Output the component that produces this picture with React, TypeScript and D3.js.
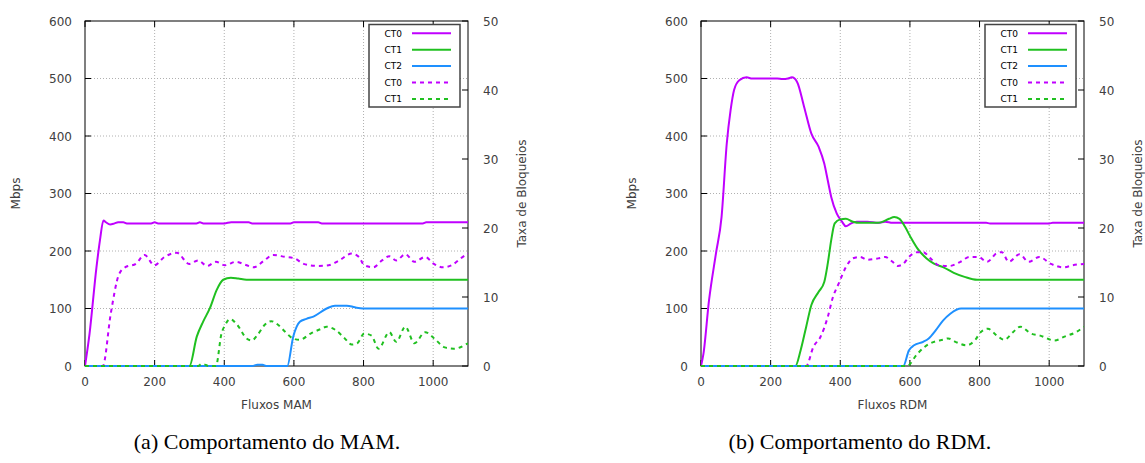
import React from "react";
import * as d3 from "d3";

// x ticks / y ticks
const X_TICKS = [0, 200, 400, 600, 800, 1000];
const Y_TICKS = [0, 100, 200, 300, 400, 500, 600];
const Y2_TICKS = [0, 10, 20, 30, 40, 50];

type Pt = [number, number];

// MAM, Mbps
const mamCt0: Pt[] = [
  [0, 0], [13, 56], [33, 172], [43, 219], [53, 253], [60, 250], [72, 246], [85, 248], [95, 250],
  [110, 250], [120, 248], [190, 248], [200, 250], [210, 248], [320, 248], [330, 250], [340, 248],
  [400, 248], [420, 250], [470, 250], [480, 248], [590, 248], [600, 250], [670, 250], [680, 248],
  [970, 248], [980, 250], [1100, 250],
];
const mamCt1: Pt[] = [
  [0, 0], [300, 0], [321, 51], [340, 78], [359, 101], [378, 132], [397, 150], [419, 153.5],
  [440, 152], [464, 150], [1100, 150],
];
const mamCt2: Pt[] = [
  [0, 0], [480, 0], [495, 2], [510, 2], [520, 0], [581, 0], [598, 51], [617, 77], [636, 82],
  [656, 86], [694, 100], [718, 105], [752, 105], [775, 102], [798, 100], [1100, 100],
];
// MAM, taxa de bloqueios
const mamBlockCt0: Pt[] = [
  [0, 0], [51, 0], [74, 7.6], [97, 13.2], [115, 14.3], [146, 14.8], [171, 16.1], [199, 14.6],
  [228, 15.8], [264, 16.4], [299, 14.8], [325, 15.3], [351, 14.5], [376, 15.1], [402, 14.6],
  [433, 15.1], [464, 14.6], [484, 14.3], [515, 15.3], [540, 16.1], [576, 15.8], [602, 15.6],
  [628, 14.8], [669, 14.5], [700, 14.6], [730, 15.3], [766, 16.3], [787, 15.8], [802, 14.6],
  [828, 14.3], [853, 15.3], [874, 15.9], [894, 15.3], [920, 16.2], [946, 15.1], [977, 15.8],
  [1002, 14.8], [1028, 14.3], [1053, 14.6], [1079, 15.6], [1100, 16.3],
];
const mamBlockCt1: Pt[] = [
  [0, 0], [325, 0], [335, 0.3], [345, 0.2], [355, 0], [376, 0], [392, 4.7], [402, 5.9],
  [417, 6.8], [438, 5.9], [464, 4.0], [479, 3.7], [494, 4.4], [515, 5.9], [535, 6.5],
  [556, 5.9], [576, 4.9], [597, 4.0], [617, 3.8], [648, 4.7], [679, 5.4], [694, 5.7],
  [720, 5.2], [746, 4.0], [766, 3.1], [782, 3.3], [802, 4.7], [823, 4.4], [843, 2.5],
  [874, 4.9], [894, 3.5], [920, 5.7], [946, 3.3], [977, 4.9], [1007, 3.8], [1033, 2.7],
  [1059, 2.5], [1100, 3.3],
];

// RDM, Mbps
const rdmCt0: Pt[] = [
  [0, 0], [7, 21], [23, 114], [43, 196], [59, 259], [74, 387], [85, 445], [95, 480], [110, 497],
  [131, 502], [147, 500], [219, 500], [234, 499], [250, 500], [261, 502], [276, 494],
  [296, 451], [317, 404], [338, 381], [354, 352], [364, 323], [374, 294], [390, 265],
  [405, 251], [416, 243], [431, 248], [447, 251], [478, 251], [509, 249], [529, 251],
  [550, 249], [819, 249], [830, 248], [1000, 248], [1010, 249], [1100, 249],
];
const rdmCt1: Pt[] = [
  [0, 0], [271, 0], [286, 27], [302, 68], [317, 106], [338, 129], [354, 146], [364, 178],
  [374, 219], [384, 248], [400, 255], [416, 256], [436, 251], [457, 249], [509, 249],
  [540, 256], [555, 259], [570, 256], [586, 242], [602, 224], [622, 204], [648, 187],
  [669, 178], [695, 172], [726, 162], [757, 155], [793, 150], [1100, 150],
];
const rdmCt2: Pt[] = [
  [0, 0], [581, 0], [597, 27], [612, 36], [638, 42], [654, 48], [674, 62], [695, 79],
  [716, 91], [747, 100], [1100, 100],
];
// RDM, taxa de bloqueios
const rdmBlockCt0: Pt[] = [
  [0, 0], [302, 0], [323, 2.8], [343, 4.2], [364, 7.1], [379, 10], [395, 11.9], [416, 14.3],
  [436, 15.6], [457, 15.8], [478, 15.4], [509, 15.6], [529, 15.8], [550, 15.1], [565, 14.5],
  [581, 14.8], [597, 15.8], [622, 16.5], [638, 16.5], [659, 15.6], [683, 14.6], [714, 14.5],
  [745, 15.1], [771, 15.8], [797, 15.8], [822, 15.1], [848, 16.3], [864, 16.5], [884, 15.1],
  [915, 16.2], [941, 15.1], [972, 15.8], [1005, 14.8], [1041, 14.3], [1067, 14.6], [1100, 14.8],
];
const rdmBlockCt1: Pt[] = [
  [0, 0], [591, 0], [622, 1.8], [643, 2.8], [669, 3.5], [695, 3.8], [710, 4.0], [731, 3.5],
  [762, 3.0], [788, 3.8], [803, 4.9], [824, 5.4], [850, 4.4], [871, 3.8], [896, 4.9],
  [917, 5.7], [948, 4.7], [974, 4.4], [1015, 3.7], [1046, 4.3], [1077, 4.9], [1100, 5.7],
];

const LEGEND = ["CT0", "CT1", "CT2", "CT0", "CT1"];

const C0 = "#c000ff";
const C1 = "#20c020";
const C2 = "#1e90ff";

const W = 383;
const H = 345;
const TOP = 21;
const FONT = "'DejaVu Sans', sans-serif";

interface ChartProps {
  left: number;
  xLabel: string;
  ct0: Pt[];
  ct1: Pt[];
  ct2: Pt[];
  b0: Pt[];
  b1: Pt[];
}

const Chart = ({ left, xLabel, ct0, ct1, ct2, b0, b1 }: ChartProps) => {
  const x = d3.scaleLinear().domain([0, 1100]).range([0, W]);
  const y = d3.scaleLinear().domain([0, 600]).range([H, 0]);
  const y2 = d3.scaleLinear().domain([0, 50]).range([H, 0]);

  const line = d3.line<Pt>().x((d) => x(d[0])).y((d) => y(d[1])).curve(d3.curveMonotoneX);
  const line2 = d3.line<Pt>().x((d) => x(d[0])).y((d) => y2(d[1])).curve(d3.curveMonotoneX);

  const series = [
    { d: line(ct0), c: C0, dash: undefined },
    { d: line(ct1), c: C1, dash: undefined },
    { d: line(ct2), c: C2, dash: undefined },
    { d: line2(b0), c: C0, dash: "4,4" },
    { d: line2(b1), c: C1, dash: "4,4" },
  ];

  return (
    <g transform={`translate(${left},${TOP})`} fontFamily={FONT}>
      <defs>
        <clipPath id={`clip${left}`}>
          <rect x={0} y={-2} width={W} height={H + 4} />
        </clipPath>
      </defs>
      {/* grid */}
      {X_TICKS.filter((t) => t > 0).map((t) => (
        <line key={"gx" + t} x1={x(t)} x2={x(t)} y1={0} y2={H} stroke="#b0b0b0" strokeDasharray="1,2" />
      ))}
      {Y_TICKS.filter((t) => t > 0 && t < 600).map((t) => (
        <line key={"gy" + t} x1={0} x2={W} y1={y(t)} y2={y(t)} stroke="#b0b0b0" strokeDasharray="1,2" />
      ))}
      {/* ticks */}
      {X_TICKS.map((t) => (
        <g key={"tx" + t}>
          <line x1={x(t)} x2={x(t)} y1={H} y2={H - 6} stroke="#000" />
          <line x1={x(t)} x2={x(t)} y1={0} y2={6} stroke="#000" />
          <text x={x(t)} y={H + 20} textAnchor="middle" fontSize={12} fill="#404040">{t}</text>
        </g>
      ))}
      {Y_TICKS.map((t) => (
        <g key={"ty" + t}>
          <line x1={0} x2={6} y1={y(t)} y2={y(t)} stroke="#000" />
          <text x={-13} y={y(t) + 4.5} textAnchor="end" fontSize={12} fill="#404040">{t}</text>
        </g>
      ))}
      {Y2_TICKS.map((t) => (
        <g key={"ty2" + t}>
          <line x1={W} x2={W - 6} y1={y2(t)} y2={y2(t)} stroke="#000" />
          <text x={W + 15} y={y2(t) + 4.5} textAnchor="start" fontSize={12} fill="#404040">{t}</text>
        </g>
      ))}
      <rect x={0} y={0} width={W} height={H} fill="none" stroke="#000" strokeWidth={1} />
      {/* series */}
      <g clipPath={`url(#clip${left})`}>
        {series.map((s, i) => (
          <path key={i} d={s.d ?? ""} fill="none" stroke={s.c} strokeWidth={2} strokeDasharray={s.dash} />
        ))}
      </g>
      {/* legend */}
      <rect x={284} y={3.5} width={91} height={82.5} fill="#fff" stroke="#444" strokeWidth={1.5} />
      {LEGEND.map((name, i) => {
        const ly = 12.3 + i * 16.4;
        const s = series[i];
        return (
          <g key={"lg" + i}>
            <text x={317} y={ly + 3.2} textAnchor="end" fontSize={9} fill="#000">{name}</text>
            <line x1={327} x2={366} y1={ly} y2={ly} stroke={s.c} strokeWidth={2} strokeDasharray={s.dash} />
          </g>
        );
      })}
      {/* axis titles */}
      <text x={W / 2} y={H + 43} textAnchor="middle" fontSize={12} fill="#404040">{xLabel}</text>
      <text transform={`translate(-65,${H / 2}) rotate(-90)`} textAnchor="middle" fontSize={12} fill="#404040">Mbps</text>
      <text transform={`translate(${W + 58},${H / 2}) rotate(-90)`} textAnchor="middle" fontSize={12} fill="#404040">Taxa de Bloqueios</text>
    </g>
  );
};

const App = () => {
  return (
    <div style={{ position: "absolute", left: 0, top: 0 }}>
      <svg width={1145} height={463} style={{ display: "block", background: "#fff" }}>
        <Chart left={85} xLabel="Fluxos MAM" ct0={mamCt0} ct1={mamCt1} ct2={mamCt2} b0={mamBlockCt0} b1={mamBlockCt1} />
        <Chart left={701} xLabel="Fluxos RDM" ct0={rdmCt0} ct1={rdmCt1} ct2={rdmCt2} b0={rdmBlockCt0} b1={rdmBlockCt1} />
        <text x={267} y={449} textAnchor="middle" fontSize={22} fontFamily="'Liberation Serif', serif" fill="#000">(a) Comportamento do MAM.</text>
        <text x={860} y={449} textAnchor="middle" fontSize={22} fontFamily="'Liberation Serif', serif" fill="#000">(b) Comportamento do RDM.</text>
      </svg>
    </div>
  );
};

export default App;
